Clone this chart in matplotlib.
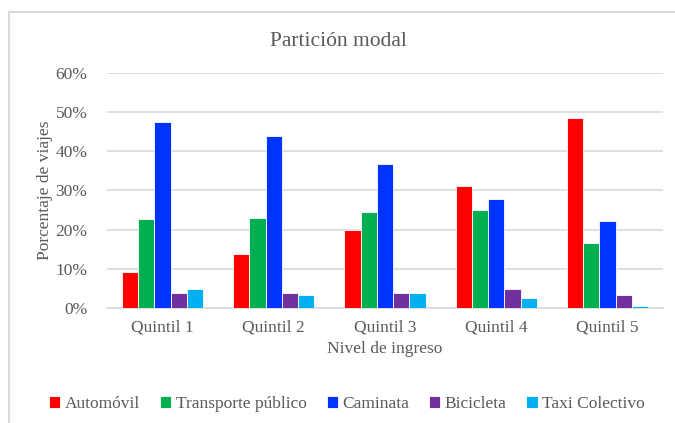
import numpy as np
import matplotlib.pyplot as plt
from matplotlib.lines import Line2D
from matplotlib.ticker import PercentFormatter

# participación por modo de transporte y quintil de ingreso
quintiles = ["Quintil 1", "Quintil 2", "Quintil 3", "Quintil 4", "Quintil 5"]
modos = ["Automóvil", "Transporte público", "Caminata", "Bicicleta", "Taxi Colectivo"]
automovil = [0.091, 0.139, 0.199, 0.311, 0.486]
transporte_publico = [0.227, 0.231, 0.246, 0.250, 0.167]
caminata = [0.475, 0.439, 0.368, 0.279, 0.222]
bicicleta = [0.039, 0.039, 0.039, 0.049, 0.034]
taxi_colectivo = [0.049, 0.034, 0.039, 0.026, 0.006]
colores = ["#ff0000", "#00b050", "#0033ff", "#7030a0", "#00b0f0"]

series = [automovil, transporte_publico, caminata, bicicleta, taxi_colectivo]

plt.rcParams['font.family'] = ['Liberation Serif', 'DejaVu Serif']
gris = "#595959"

fig = plt.figure(figsize=(6.75, 4.23), dpi=100)
ax = fig.add_axes([107 / 675, 1 - 308 / 423, 556 / 675, 235 / 423])

x = np.arange(len(quintiles))
ancho = 0.146
for i, (vals, c, nombre) in enumerate(zip(series, colores, modos)):
    ax.bar(x + (i - 2) * ancho, vals, ancho, color=c, edgecolor="white",
           linewidth=0.6, label=nombre, zorder=3)

ax.set_xlim(-0.5, 4.5)
ax.set_ylim(0, 0.6)
ax.set_yticks(np.arange(0, 0.61, 0.1))
ax.yaxis.set_major_formatter(PercentFormatter(1.0, decimals=0))
ax.set_xticks(x)
ax.set_xticklabels(quintiles)
ax.grid(axis="y", color="#d9d9d9", linewidth=1.2, zorder=0)
ax.tick_params(length=0, labelsize=12.5, colors=gris, pad=8)
ax.tick_params(axis="y", pad=14)
for s in ["top", "right", "left"]:
    ax.spines[s].set_visible(False)
ax.spines["bottom"].set_color("#d9d9d9")
ax.spines["bottom"].set_linewidth(1.2)

ax.set_xlabel("Nivel de ingreso", fontsize=12.5, color=gris, labelpad=4)
ax.set_ylabel("Porcentaje de viajes", fontsize=12.5, color=gris, labelpad=2)
fig.text(338 / 675, 1 - 42 / 423, "Partición modal", fontsize=15.5,
         color=gris, ha="center", va="center")

leg = fig.legend(loc="center", bbox_to_anchor=(347 / 675, 1 - 404 / 423),
                 ncol=5, frameon=False, fontsize=12.5, handlelength=0.65,
                 handleheight=0.65, handletextpad=0.25, columnspacing=1.15,
                 borderaxespad=0)
for t in leg.get_texts():
    t.set_color(gris)

# borde del área del gráfico
fig.add_artist(Line2D([9 / 675, 1], [1 - 12 / 423] * 2, color="#d9d9d9", lw=1.5))
fig.add_artist(Line2D([9 / 675] * 2, [0, 1 - 12 / 423], color="#d9d9d9", lw=1.5))

fig.savefig("out.png", dpi=100)
